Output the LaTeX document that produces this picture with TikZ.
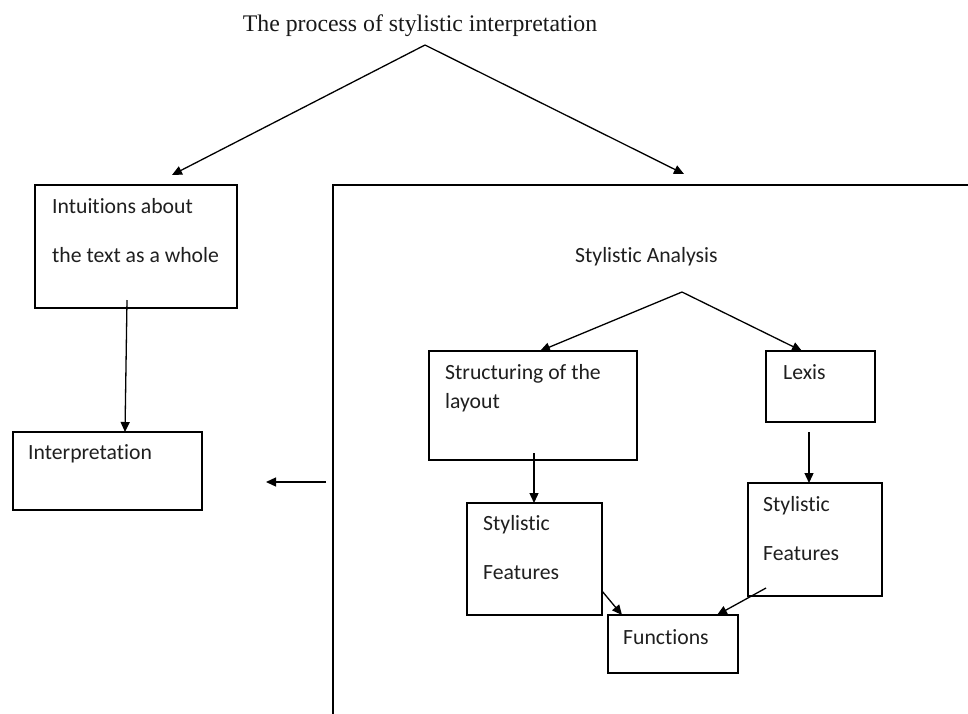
\documentclass[tikz,border=0pt]{standalone}
\usepackage{fontspec}
\setmainfont[Ligatures=NoCommon]{Carlito}
\newfontfamily\titlefont{Liberation Serif}
\usetikzlibrary{arrows.meta}
\tikzset{
  box/.style={draw=black, line width=1.3pt, rectangle, inner sep=0pt, outer sep=0pt, anchor=north west},
  lbl/.style={anchor=base west, inner sep=0pt, font=\fontsize{21.7}{26}\selectfont, text=black!88},
  arr/.style={line width=1.3pt, -{Triangle[length=10pt,width=9pt]}},
  ln/.style={line width=1.2pt}
}
\begin{document}
\begin{tikzpicture}[x=1pt,y=-1pt]
\useasboundingbox (0,0) rectangle (968,713);
\clip (0,0) rectangle (968,713);
\fill[white] (0,0) rectangle (968,713);

% title
\node[anchor=base, inner sep=0pt, font=\titlefont\fontsize{23.8}{28}\selectfont, text=black!90] (title) at (420,31) {The process of stylistic interpretation};

% boxes
\node[box, minimum width=202pt, minimum height=123pt] (intu) at (35,185) {};
\node[box, minimum width=189pt, minimum height=78pt] (interp) at (13,432) {};
\node[box, minimum width=700pt, minimum height=600pt] (big) at (333,185) {};
\node[box, minimum width=208pt, minimum height=109pt] (struct) at (429,351) {};
\node[box, minimum width=109pt, minimum height=71pt] (lexis) at (766,351) {};
\node[box, minimum width=135pt, minimum height=112pt] (sfa) at (467,503) {};
\node[box, minimum width=134pt, minimum height=113pt] (sfb) at (748,483) {};
\node[box, minimum width=130pt, minimum height=58pt] (func) at (608,615) {};

% texts
\node[lbl] (t1) at (52,213) {Intuitions about};
\node[lbl] (t2) at (52,262) {the text as a whole};
\node[lbl] (t3) at (28,459) {Interpretation};
\node[lbl] (t4) at (575,262) {Stylistic Analysis};
\node[lbl] (t5) at (445,379) {Structuring of the};
\node[lbl] (t6) at (445,408) {layout};
\node[lbl] (t7) at (783,379) {Lexis};
\node[lbl] (t8) at (483,530) {Stylistic};
\node[lbl] (t9) at (483,579) {Features};
\node[lbl] (t10) at (763,511) {Stylistic};
\node[lbl] (t11) at (763,560) {Features};
\node[lbl] (t12) at (623,644) {Functions};

% coordinates
\coordinate (apex) at (425,45);
\coordinate (tipL) at (172,175);
\coordinate (tipR) at (684,174);
\coordinate (intuS) at (127,300);
\coordinate (bigW) at (326,482);
\coordinate (interpE) at (266,482);
\coordinate (apex2) at (682,292);
\coordinate (structS) at (534,453);
\coordinate (lexisS) at (809,432);
\coordinate (sfaE) at (602,591);
\coordinate (sfbW) at (766,588);

% connectors
\draw[arr] (apex) -- (tipL);
\draw[arr] (apex) -- (tipR);
\draw[arr] (intuS) -- ([xshift=112pt]interp.north west);
\draw[arr] (bigW) -- (interpE);
\draw[arr] (apex2) -- ([xshift=111pt]struct.north west);
\draw[arr] (apex2) -- ([xshift=36pt]lexis.north west);
\draw[arr] (structS) -- ([xshift=67pt]sfa.north west);
\draw[arr] (lexisS) -- ([xshift=61pt]sfb.north west);
\draw[arr] (sfaE) -- ([xshift=14pt]func.north west);
\draw[arr] (sfbW) -- ([xshift=109pt]func.north west);
\end{tikzpicture}
\end{document}
